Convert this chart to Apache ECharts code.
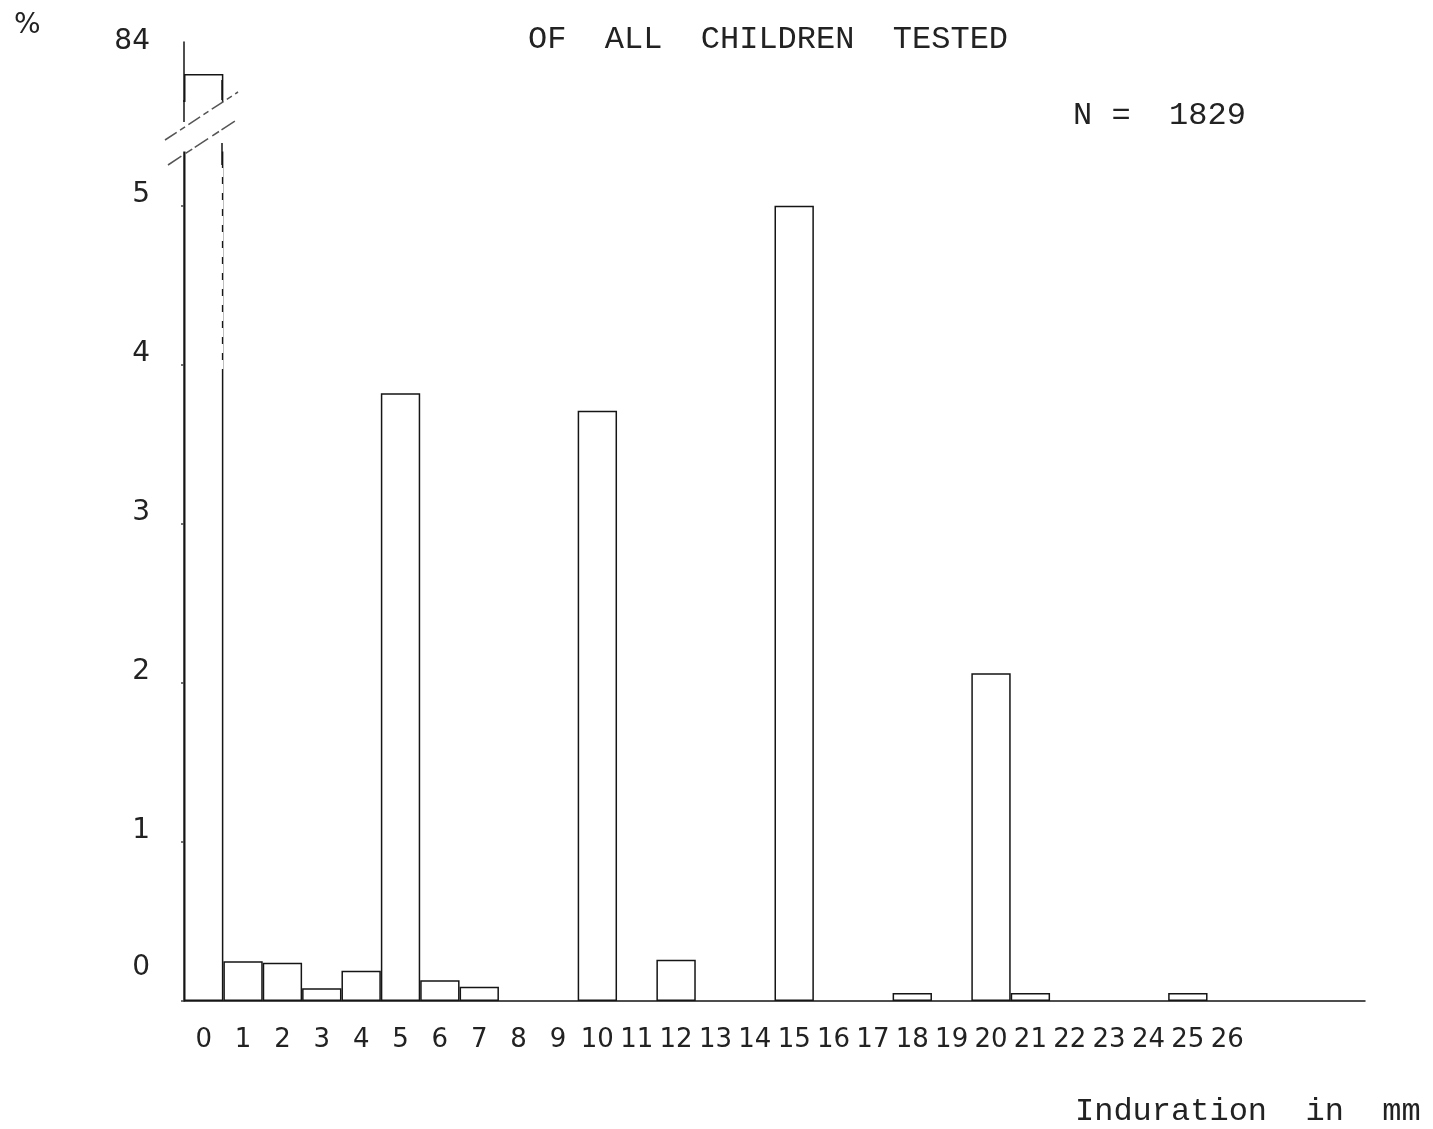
<!DOCTYPE html>
<html><head><meta charset="utf-8">
<script src="https://cdn.jsdelivr.net/npm/echarts@6/dist/echarts.min.js"></script>
<style>html,body{margin:0;padding:0;background:#fff}#c{width:1433px;height:1129px}</style>
</head><body><div id="c"></div>
<script>
// ---- data ----
const categories = ['0','1','2','3','4','5','6','7','8','9','10','11','12','13','14','15','16','17','18','19','20','21','22','23','24','25','26','27','28','29'];
const xTickLabels = ['0','1','2','3','4','5','6','7','8','9','10','11','12','13','14','15','16','17','18','19','20','21','22','23','24','25','26'];
// percent of children per induration (mm)
const percentValues = [83.8, 0.25, 0.24, 0.08, 0.19, 3.82, 0.13, 0.09, null, null, 3.71, null, 0.26, null, null, 5.0, null, null, 0.05, null, 2.06, 0.05, null, null, null, 0.05, null, null, null, null];
const yTickLabelsLower = [0, 1, 2, 3, 4, 5];
const yTickLabelUpper = 84;

// ---- layout ----
const L = 184, R = 68;
const lowerTop = 150, lowerBottom = 128;   // baseline at y=1001
const lowerMax = 5.35;
const upperTop = 42, upperHeight = 64, upperMin = 83.6, upperMax = 84;

const lineCol = '#151515';
const textCol = '#222';
const mono = '"Liberation Mono", "DejaVu Sans Mono", monospace';
const sans = '"DejaVu Sans", "Noto Sans", sans-serif';

const upperValues = percentValues.map(v => (v != null && v > upperMin) ? v : null);

const barItem = { color: '#fff', borderColor: lineCol, borderWidth: 1.5 };

const chart = echarts.init(document.getElementById('c'), null, { renderer: 'canvas' });
chart.setOption({
  backgroundColor: '#fff',
  animation: false,
  grid: [
    { left: L, right: R, top: lowerTop, bottom: lowerBottom, containLabel: false },
    { left: L, right: R, top: upperTop, height: upperHeight, containLabel: false }
  ],
  xAxis: [
    {
      gridIndex: 0, type: 'category', data: categories, boundaryGap: true,
      axisLine: { lineStyle: { color: lineCol, width: 1.5 } },
      axisTick: { show: false },
      axisLabel: {
        interval: 0, margin: 26, fontSize: 26, color: textCol, fontFamily: sans,
        formatter: (v, i) => (i < xTickLabels.length ? xTickLabels[i] : '')
      },
      splitLine: { show: false }
    },
    { gridIndex: 1, type: 'category', data: categories, boundaryGap: true, show: false }
  ],
  yAxis: [
    {
      gridIndex: 0, type: 'value', min: 0, max: lowerMax, interval: 1,
      axisLine: { show: true, lineStyle: { color: lineCol, width: 1.5 } },
      axisTick: { show: true, length: 3, lineStyle: { color: '#444', width: 1.5 } },
      splitLine: { show: false },
      axisLabel: {
        margin: 34, fontSize: 28, color: textCol, fontFamily: sans,
        padding: [0, 0, 22, 0],
        formatter: v => {
          if (!yTickLabelsLower.includes(v)) return '';
          return v === 0 ? '{z|0}' : String(v);
        },
        rich: { z: { fontSize: 28, color: textCol, fontFamily: sans, padding: [0, 0, 44, 0] } }
      }
    },
    {
      gridIndex: 1, type: 'value', min: upperMin, max: upperMax, interval: 0.4,
      axisLine: { show: true, lineStyle: { color: lineCol, width: 1.5 } },
      axisTick: { show: false },
      splitLine: { show: false },
      axisLabel: {
        margin: 34, fontSize: 28, color: textCol, fontFamily: sans,
        padding: [0, 0, 22, 0],
        formatter: v => (Math.abs(v - yTickLabelUpper) < 1e-6 ? String(yTickLabelUpper) : '')
      }
    }
  ],
  series: [
    {
      type: 'bar', xAxisIndex: 0, yAxisIndex: 0, data: percentValues,
      barWidth: '100%', barCategoryGap: '0%', itemStyle: barItem, clip: true,
      emphasis: { disabled: true }
    },
    {
      type: 'bar', xAxisIndex: 1, yAxisIndex: 1, data: upperValues,
      barWidth: '100%', barCategoryGap: '0%', itemStyle: barItem, clip: true,
      emphasis: { disabled: true }
    }
  ],
  graphic: [
    // break zone (white gap with slanted break marks)
    { type: 'rect', z: 100, shape: { x: 150, y: 102, width: 110, height: lowerTop - 102 + 1.5 }, style: { fill: '#fff' } },
    { type: 'line', z: 100, shape: { x1: 222, y1: 168, x2: 222, y2: 370 }, style: { stroke: '#fff', lineWidth: 2.5, lineDash: [9, 7] } },
    { type: 'line', z: 101, shape: { x1: 165, y1: 140, x2: 238, y2: 92 }, style: { stroke: '#555', lineWidth: 1.5, lineDash: [14, 4, 6, 4] } },
    { type: 'line', z: 101, shape: { x1: 168, y1: 165, x2: 238, y2: 119 }, style: { stroke: '#555', lineWidth: 1.5, lineDash: [16, 5, 8, 3] } },
    { type: 'line', z: 101, shape: { x1: 222, y1: 143, x2: 222, y2: 165 }, style: { stroke: lineCol, lineWidth: 1.5 } },
    { type: 'line', z: 101, shape: { x1: 222, y1: 80, x2: 222, y2: 100 }, style: { stroke: lineCol, lineWidth: 1.5 } },
    { type: 'line', z: 101, shape: { x1: 184, y1: 100, x2: 184, y2: 122 }, style: { stroke: lineCol, lineWidth: 1.5 } },
    // texts
    { type: 'text', z: 102, style: { x: 768, y: 40, text: 'OF  ALL  CHILDREN  TESTED', font: '32px ' + mono, fill: textCol, textAlign: 'center', textVerticalAlign: 'middle' } },
    { type: 'text', z: 102, style: { x: 1073, y: 116, text: 'N =  1829', font: '32px ' + mono, fill: textCol, textAlign: 'left', textVerticalAlign: 'middle' } },
    { type: 'text', z: 102, style: { x: 1075, y: 1112, text: 'Induration  in  mm', font: '32px ' + mono, fill: textCol, textAlign: 'left', textVerticalAlign: 'middle' } },
    { type: 'text', z: 102, style: { x: 14, y: 26, text: '%', font: '28px ' + sans, fill: textCol, textAlign: 'left', textVerticalAlign: 'middle' } }
  ]
});
</script>
</body></html>
